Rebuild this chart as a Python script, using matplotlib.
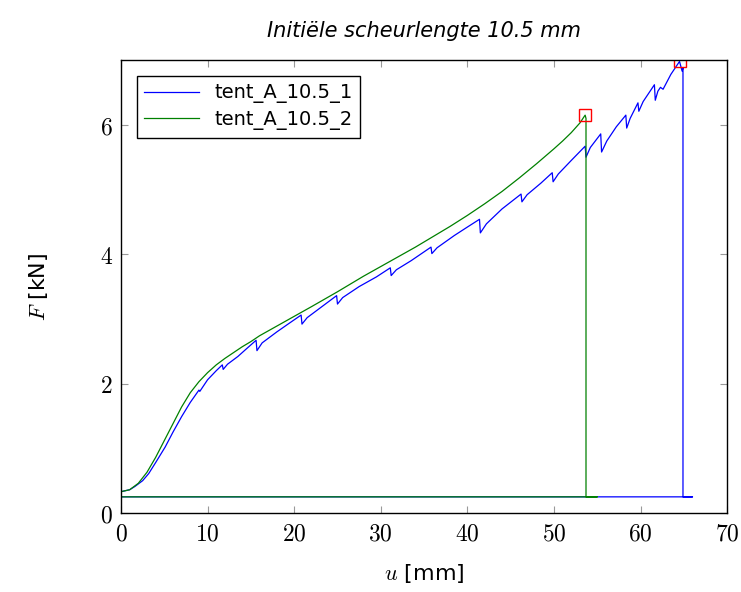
import matplotlib.pyplot as plt

plt.rcParams['mathtext.fontset'] = 'cm'
plt.rcParams['font.family'] = ['DejaVu Sans']

# tent_A_10.5_1 (blue) - displacement u [mm], force F [kN]
u1 = [0, 1, 1.6, 2.5, 3.2, 4, 5.1, 6, 7, 8, 9, 9.1, 10, 11, 11.7, 11.8,
      12.3, 13.5, 14.5, 15.6, 15.7, 16.3, 18, 19.5, 20.8, 20.9, 21.5, 23,
      24.9, 25.0, 25.6, 27.5, 29.5, 31.1, 31.2, 31.8, 33.5, 35.8, 35.9, 36.5,
      38.5, 40, 41.4, 41.5, 42.2, 44, 46.2, 46.3, 46.9, 48.5, 49.8, 49.9,
      50.5, 52, 53.6, 53.7, 54.2, 55.4, 55.5, 56.1, 57.2, 58.3, 58.4, 58.8,
      59.7, 59.8, 60.3, 61.6, 61.7, 62.0, 62.3, 62.6, 63.5, 64.5, 64.8, 64.9,
      64.9, 66.0, 0]
F1 = [0.33, 0.36, 0.41, 0.5, 0.61, 0.78, 1.02, 1.25, 1.49, 1.71, 1.9, 1.88,
      2.06, 2.2, 2.29, 2.22, 2.3, 2.42, 2.54, 2.67, 2.51, 2.63, 2.8, 2.94,
      3.06, 2.92, 3.02, 3.17, 3.36, 3.23, 3.33, 3.5, 3.65, 3.79, 3.67, 3.76,
      3.9, 4.11, 4.01, 4.1, 4.29, 4.42, 4.54, 4.33, 4.47, 4.7, 4.93, 4.81,
      4.92, 5.1, 5.26, 5.12, 5.24, 5.45, 5.67, 5.50, 5.65, 5.86, 5.58, 5.75,
      5.97, 6.15, 5.95, 6.1, 6.34, 6.21, 6.36, 6.62, 6.38, 6.52, 6.58, 6.55,
      6.78, 6.98, 6.83, 6.88, 0.25, 0.25, 0.25]

# tent_A_10.5_2 (green)
u2 = [0, 1, 2, 3, 4, 5, 6, 7, 8, 9, 10, 11, 12, 13, 14, 15, 16, 18, 20, 22,
      25, 28, 30, 32, 34, 36, 38, 40, 42, 44, 46, 48, 50, 51, 52, 53, 53.6,
      53.7, 53.7, 55.0, 0]
F2 = [0.33, 0.36, 0.46, 0.63, 0.86, 1.12, 1.38, 1.64, 1.86, 2.03, 2.17,
      2.29, 2.39, 2.48, 2.57, 2.65, 2.74, 2.89, 3.04, 3.19, 3.42, 3.66, 3.81,
      3.96, 4.11, 4.27, 4.43, 4.6, 4.78, 4.97, 5.18, 5.4, 5.63, 5.75, 5.88,
      6.03, 6.15, 6.1, 0.25, 0.25, 0.25]

# maximum force markers
peak_u = [64.5, 53.6]
peak_F = [6.98, 6.15]

fig = plt.figure(figsize=(7.41, 5.92), dpi=100)
ax = fig.add_axes([0.1633, 0.1334, 0.818, 0.765])

ax.plot(u1, F1, color='#0000ff', lw=0.9, label='tent_A_10.5_1')
ax.plot(u2, F2, color='#008000', lw=0.9, label='tent_A_10.5_2')
ax.plot(peak_u, peak_F, ls='none', marker='s', ms=9, mfc='none',
        mec='red', mew=1.0)

ax.set_xlim(0, 70)
ax.set_ylim(0, 7)
ax.set_xticks([0, 10, 20, 30, 40, 50, 60, 70])
ax.set_yticks([0, 2, 4, 6])
ax.set_xticklabels(['$%d$' % v for v in range(0, 80, 10)])
ax.set_yticklabels(['$%d$' % v for v in [0, 2, 4, 6]])
ax.tick_params(direction='in', length=5, color='#999999', labelsize=17,
               top=True, right=True, pad=6)
for s in ax.spines.values():
    s.set_linewidth(1.0)

ax.set_xlabel('$u$ [mm]', fontsize=16, labelpad=12)
ax.set_ylabel('$F$ [kN]', fontsize=16, labelpad=36)
ax.set_title('Initiële scheurlengte 10.5 mm', fontsize=15, style='italic', pad=17)

leg = ax.legend(loc='upper left', fontsize=14, fancybox=False, framealpha=1,
                edgecolor='black', handlelength=2.8, borderaxespad=0.8,
                labelspacing=0.35)
leg.get_frame().set_linewidth(1.0)

fig.savefig('out.png', dpi=100)
